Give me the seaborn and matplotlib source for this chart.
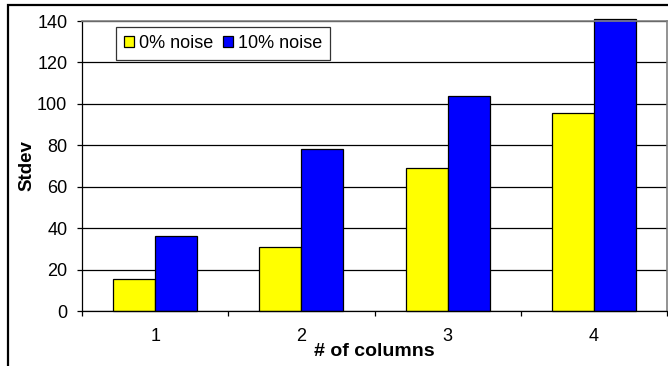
import matplotlib
matplotlib.use("Agg")
import matplotlib.pyplot as plt
from matplotlib.patches import Rectangle
import pandas as pd
import seaborn as sns

# values
columns = ["1", "2", "3", "4"]
noise_0 = [15.6, 31.1, 69.2, 95.5]
noise_10 = [36.0, 78.1, 103.7, 141.0]
series_names = ["0% noise", "10% noise"]
colors = ["#FFFF00", "#0000FF"]

df = pd.DataFrame({
    "columns": columns * 2,
    "stdev": noise_0 + noise_10,
    "series": [series_names[0]] * 4 + [series_names[1]] * 4,
})

sns.set_style("white")
plt.rcParams["font.family"] = ["Liberation Sans", "DejaVu Sans"]
plt.rcParams["text.color"] = "black"
plt.rcParams["axes.labelcolor"] = "black"
plt.rcParams["xtick.color"] = "black"
plt.rcParams["ytick.color"] = "black"

fig = plt.figure(figsize=(6.68, 3.66), dpi=100)
ax = fig.add_axes([82 / 668, 1 - 311 / 366, 585 / 668, 290 / 366])

sns.barplot(data=df, x="columns", y="stdev", hue="series", palette=colors,
            width=0.575, edgecolor="black", linewidth=0.9, saturation=1,
            ax=ax, legend=False)
for p in ax.patches:
    p.set_clip_on(False)

ax.set_ylim(0, 140)
ax.set_xlim(-0.5, 3.5)
ax.set_yticks(range(0, 141, 20))
ax.yaxis.grid(True, color="black", linewidth=0.9)
ax.set_axisbelow(True)

# x tick marks sit between the categories
ax.set_xticks([-0.5, 0.5, 1.5, 2.5, 3.5], minor=True)
ax.tick_params(axis="x", which="major", length=0, pad=12, labelsize=13)
ax.tick_params(axis="x", which="minor", direction="out", length=3.6, width=0.9,
               bottom=True)
ax.tick_params(axis="y", direction="out", length=3.6, width=0.9,
               left=True, pad=7, labelsize=13)

for side in ["left", "bottom"]:
    ax.spines[side].set_color("black")
    ax.spines[side].set_linewidth(0.9)
for side in ["top", "right"]:
    ax.spines[side].set_color("#808080")
    ax.spines[side].set_linewidth(1.2)

ax.set_xlabel("# of columns", fontsize=14, fontweight="bold", labelpad=-1)
ax.set_ylabel("Stdev", fontsize=13.5, fontweight="bold", labelpad=1)

handles = [Rectangle((0, 0), 1, 1, facecolor=c, edgecolor="black", linewidth=0.9)
           for c in colors]
leg = ax.legend(handles, series_names, ncol=2, loc="upper left",
                bbox_to_anchor=(0.058, 0.98), fontsize=13, frameon=True,
                fancybox=False, handlelength=0.55, handleheight=0.55,
                handletextpad=0.3, columnspacing=0.5, borderpad=0.45,
                borderaxespad=0)
leg.get_frame().set_edgecolor("black")
leg.get_frame().set_linewidth(0.9)

# outer chart frame (cropped on the right and bottom)
fig.add_artist(Rectangle((8 / 668, -0.2), 1.2, 1.2 - 5 / 366,
                         transform=fig.transFigure, fill=False,
                         edgecolor="black", linewidth=1.6, clip_on=False))

fig.savefig("out.png", dpi=100)
